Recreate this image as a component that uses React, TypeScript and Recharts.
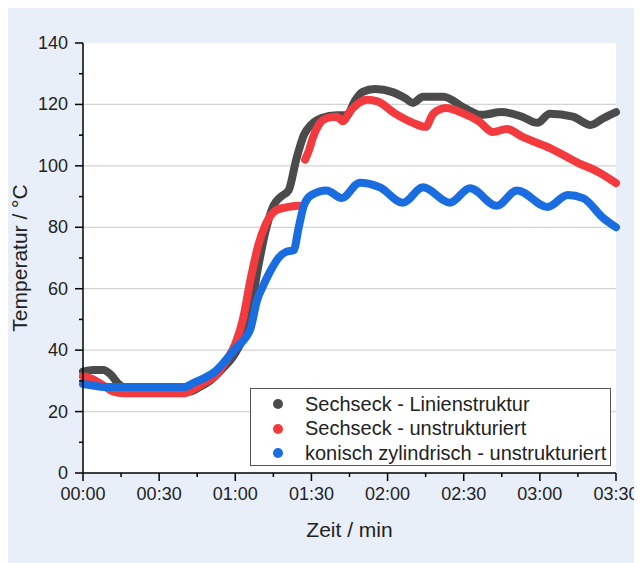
import React from 'react'
import { LineChart, Line, XAxis, YAxis, CartesianGrid } from 'recharts'

const seriesNames = ['Sechseck - Linienstruktur', 'Sechseck - unstrukturiert', 'konisch zylindrisch - unstrukturiert']
const seriesColors = ['#4b4b4b', '#f33b3f', '#1a6de0']

// time in seconds, temperature in °C
const blackTime = [0, 4, 8, 11, 14, 17, 22, 30, 38, 42, 46, 50, 55, 60, 63, 66, 69, 72, 75, 78, 81, 84, 87, 90, 94, 100, 104, 107, 110, 115, 122, 127, 130, 134, 142, 150, 157, 165, 173, 179, 184, 193, 200, 205, 210]
const blackTemp = [33, 33.5, 33.5, 32, 29, 27.5, 27, 27, 27, 26.5, 28, 30, 34, 39, 44, 53, 67, 79, 87, 90, 92, 102, 110, 113.5, 115.6, 116.5, 116.5, 121, 124, 125, 124, 122, 120.5, 122.5, 122.5, 119, 116.6, 117.5, 116, 114, 117, 116, 113.3, 115.5, 117.5]

const redTime = [0, 4, 8, 12, 16, 25, 35, 40, 44, 48, 52, 56, 60, 63, 66, 69, 72, 76, 80, 85, 86, 87.5, 89, 90.5, 93, 96, 100, 102.5, 105, 108, 112, 116, 123, 130, 135, 138, 143, 150, 156, 161.5, 167, 173, 184, 195, 203, 210]
const redTemp = [31.5, 30.5, 28.5, 26.5, 26, 26, 26, 26, 27.5, 29.5, 31.5, 36, 42, 50, 63, 74, 81, 85.5, 86.5, 87, null, 102, 105, 109, 113.5, 115.5, 116, 114.5, 117.5, 120, 121.5, 121, 117, 114, 112.7, 117, 118.8, 117, 114.5, 111, 112, 109.5, 105.8, 101, 98, 94.4]

const blueTime = [0, 4, 8, 20, 30, 40, 44, 48, 52, 56, 60, 64, 66, 68.5, 71, 74, 77, 80, 83, 85, 87, 90, 96, 102, 109, 117, 126, 134, 144.5, 152.5, 163, 171, 183, 191, 197, 205, 210]
const blueTemp = [29, 28.5, 28, 28, 28, 28, 29.5, 31, 33, 36.5, 40.5, 44, 47, 56, 61, 66, 70, 72, 72.5, 80, 87, 90.5, 92, 89.5, 94.5, 93, 88, 93, 88, 92.7, 87, 92, 86.6, 90.5, 89.5, 83, 80]

const xTicks = [0, 15, 30, 45, 60, 75, 90, 105, 120, 135, 150, 165, 180, 195, 210]
const yTicks = [0, 10, 20, 30, 40, 50, 60, 70, 80, 90, 100, 110, 120, 130, 140]
const yGrid = [20, 40, 60, 80, 100, 120]
const yMax = 140

const toData = (time: number[], temp: (number | null)[]) => time.map((t, i) => ({ t, v: temp[i] }))
const series = [toData(blackTime, blackTemp), toData(redTime, redTemp), toData(blueTime, blueTemp)]

const font = '"Liberation Sans", Arial, sans-serif'

const fmtTime = (s: number) => {
  const m = Math.floor(s / 60)
  const r = s % 60
  return `${String(m).padStart(2, '0')}:${String(r).padStart(2, '0')}`
}

const gridCoords = ({ yAxis, offset }: any) =>
  yGrid.map((v) =>
    yAxis && typeof yAxis.scale === 'function'
      ? yAxis.scale(v)
      : offset.top + offset.height * (1 - v / yMax)
  )

const YTick = ({ x, y, payload }: any) => {
  const major = payload.value % 20 === 0
  return (
    <g>
      <line x1={x} x2={x - (major ? 8 : 4)} y1={y} y2={y} stroke="#000" strokeWidth={1.5} />
      {major && (
        <text x={x - 15} y={y} dy={6} textAnchor="end" fontSize={18} fontFamily={font} fill="#222">
          {payload.value}
        </text>
      )}
    </g>
  )
}

const XTick = ({ x, y, payload }: any) => {
  const major = payload.value % 30 === 0
  return (
    <g>
      <line x1={x} x2={x} y1={y} y2={y + (major ? 8 : 4)} stroke="#000" strokeWidth={1.5} />
      {major && (
        <text x={x} y={y + 27} textAnchor="middle" fontSize={18} fontFamily={font} fill="#222">
          {fmtTime(payload.value)}
        </text>
      )}
    </g>
  )
}

export default function App() {
  return (
    <div style={{ position: 'relative', width: 638, height: 558, marginLeft: -4, marginTop: -3, background: '#e8eff9', fontFamily: font }}>
      <LineChart width={638} height={558} data={series[0]} margin={{ top: 38, right: 26, bottom: 20, left: 5 }}>
        <CartesianGrid
          vertical={false}
          fill="#ffffff"
          fillOpacity={1}
          stroke="#d4d4d4"
          strokeWidth={1.2}
          horizontalCoordinatesGenerator={gridCoords}
        />
        <XAxis
          dataKey="t"
          type="number"
          domain={[0, 210]}
          ticks={xTicks}
          interval={0}
          height={70}
          tickSize={0}
          tickMargin={0}
          tickLine={false}
          tick={<XTick />}
          axisLine={{ stroke: '#000', strokeWidth: 1.5 }}
          allowDuplicatedCategory={false}
          label={{ value: 'Zeit / min', position: 'insideBottom', offset: 6, fontSize: 21, fill: '#222', fontFamily: font }}
        />
        <XAxis xAxisId="top" orientation="top" type="number" domain={[0, 210]} height={0} tick={false} tickLine={false} axisLine={{ stroke: '#000', strokeWidth: 1.5 }} />
        <YAxis
          type="number"
          domain={[0, yMax]}
          ticks={yTicks}
          interval={0}
          width={74}
          tickSize={0}
          tickMargin={0}
          tickLine={false}
          tick={<YTick />}
          axisLine={{ stroke: '#000', strokeWidth: 1.5 }}
          label={{ value: 'Temperatur / °C', angle: -90, position: 'insideLeft', offset: 11, fontSize: 21, fill: '#222', fontFamily: font, style: { textAnchor: 'middle' } }}
        />
        <YAxis yAxisId="right" orientation="right" domain={[0, yMax]} width={0} tick={false} tickLine={false} axisLine={{ stroke: '#000', strokeWidth: 1.5 }} />
        {series.map((d, i) => (
          <Line
            key={i}
            data={d}
            dataKey="v"
            type="monotone"
            stroke={seriesColors[i]}
            strokeWidth={8}
            strokeLinecap="round"
            strokeLinejoin="round"
            dot={false}
            activeDot={false}
            connectNulls={false}
            isAnimationActive={false}
          />
        ))}
      </LineChart>
      <div style={{ position: 'absolute', left: 246, top: 383, width: 359, height: 76, background: '#fff', border: '1px solid #555' }}>
        {seriesNames.map((name, i) => (
          <div key={i} style={{ position: 'absolute', left: 0, top: 3 + i * 24.5, height: 24, display: 'flex', alignItems: 'center', fontSize: 20, color: '#222', whiteSpace: 'nowrap' }}>
            <span style={{ display: 'inline-block', width: 10, height: 10, borderRadius: 5, background: seriesColors[i], marginLeft: 22, marginRight: 22 }} />
            {name}
          </div>
        ))}
      </div>
    </div>
  )
}
